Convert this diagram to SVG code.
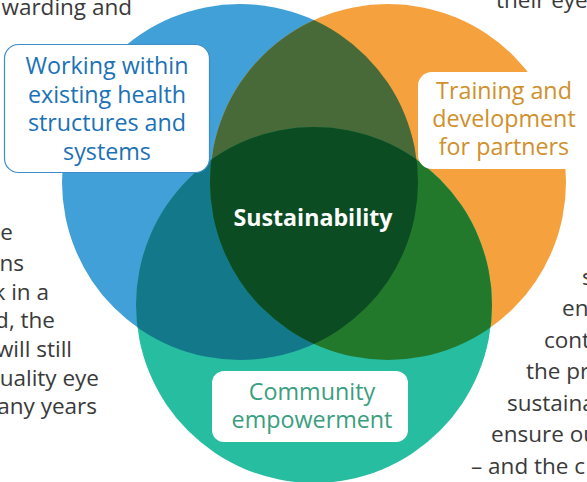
<svg xmlns="http://www.w3.org/2000/svg" width="587" height="482" viewBox="0 0 587 482">
<style>
.body{font-family:"Open Sans","Noto Sans","Liberation Sans",sans-serif;font-size:22.5px;fill:#3a3a3a}
.lbl{font-family:"Open Sans","Noto Sans","Liberation Sans",sans-serif;font-size:23.3px;text-anchor:middle}
.box{fill:#ffffff}
</style>
<defs>
<clipPath id="cB"><circle cx="240" cy="182" r="178"/></clipPath>
<clipPath id="cO"><circle cx="388" cy="182" r="178"/></clipPath>
</defs>
<rect width="587" height="482" fill="#ffffff"/>
<g id="body-text" class="body">
<text x="132" y="15" text-anchor="end">warding and</text>
<text x="496" y="8">their eye</text>
<text x="13" y="240" text-anchor="end">e</text>
<text x="24" y="271" text-anchor="end">ns</text>
<text x="49" y="300" text-anchor="end">k in a</text>
<text x="55" y="328" text-anchor="end">d, the</text>
<text x="72" y="357" text-anchor="end">will still</text>
<text x="99" y="386" text-anchor="end">uality eye</text>
<text x="97" y="414" text-anchor="end">any years</text>
<text x="582" y="285">s</text>
<text x="562" y="316">en</text>
<text x="544" y="348">cont</text>
<text x="526" y="379">the pr</text>
<text x="507" y="411">sustaina</text>
<text x="491" y="442">ensure ou</text>
<text x="471" y="474">– and the c</text>
</g>
<g id="venn">
<circle id="circle-blue" cx="240" cy="182" r="178" fill="#41a0d8"/>
<circle id="circle-orange" cx="388" cy="182" r="178" fill="#f5a13e"/>
<circle id="circle-teal" cx="314" cy="305" r="178" fill="#27bda1"/>
<circle id="blue-orange" cx="388" cy="182" r="178" fill="#486a38" clip-path="url(#cB)"/>
<circle id="blue-teal" cx="314" cy="305" r="178" fill="#13798a" clip-path="url(#cB)"/>
<circle id="orange-teal" cx="314" cy="305" r="178" fill="#23792b" clip-path="url(#cO)"/>
<g clip-path="url(#cB)"><circle id="center" cx="314" cy="305" r="178" fill="#0b4c22" clip-path="url(#cO)"/></g>
</g>
<g id="node-sustainability">
<text x="313" y="226" text-anchor="middle" font-family="'Open Sans','Noto Sans','Liberation Sans',sans-serif" font-size="23.2" font-weight="bold" fill="#ffffff">Sustainability</text>
</g>
<g id="node-working">
<rect class="box" x="4.5" y="44.5" width="205" height="128" rx="14" stroke="#3d8ccc" stroke-width="1.2"/>
<text class="lbl" fill="#1b72b6"><tspan x="107" y="74">Working within</tspan><tspan x="107" y="102.5">existing health</tspan><tspan x="107" y="131">structures and</tspan><tspan x="107" y="159.5">systems</tspan></text>
</g>
<g id="node-training">
<rect class="box" x="418" y="72" width="167" height="97" rx="14"/>
<text class="lbl" fill="#d0902c"><tspan x="504" y="99">Training and</tspan><tspan x="504" y="127">development</tspan><tspan x="504" y="155">for partners</tspan></text>
</g>
<g id="node-community">
<rect class="box" x="212" y="371" width="196" height="71" rx="12"/>
<text class="lbl" fill="#3a9e80"><tspan x="312" y="400">Community</tspan><tspan x="312" y="428">empowerment</tspan></text>
</g>
<g id="connectors"/>
</svg>
